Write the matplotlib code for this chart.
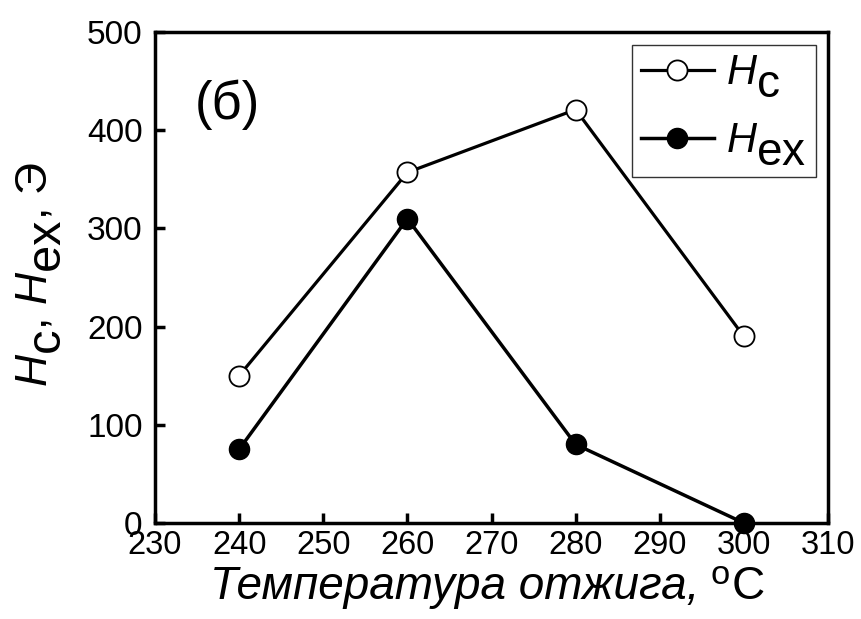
import inspect
import matplotlib
matplotlib.use("Agg")
import matplotlib.pyplot as plt
import matplotlib._mathtext as _mt

# Subscripts in the reference are nearly full-size letters, lowered below the baseline
_mt.SHRINK_FACTOR = 1.1
try:
    _src = inspect.getsource(_mt.Parser.subsuper)
    if 'sub1 * xHeight' in _src:
        _mt.FontConstantsBase.sub1 = 0.6
    else:
        _mt.FontConstantsBase.sub1 = 12.0
except Exception:
    _mt.FontConstantsBase.sub1 = 12.0

temps = [240, 260, 280, 300]
hc = [150, 357, 421, 190]
hex_ = [75, 310, 80, 0]
xticks = [230, 240, 250, 260, 270, 280, 290, 300, 310]
yticks = [0, 100, 200, 300, 400, 500]

plt.rcParams['font.family'] = ['Liberation Sans', 'DejaVu Sans']
plt.rcParams['mathtext.fontset'] = 'custom'
plt.rcParams['mathtext.rm'] = 'Liberation Sans'
plt.rcParams['mathtext.it'] = 'Liberation Sans:italic'
plt.rcParams['mathtext.bf'] = 'Liberation Sans:bold'

W, H = 861, 619
fig = plt.figure(figsize=(W/100, H/100), dpi=100)
L, R, T, B = 155, 828, 32, 523
ax = fig.add_axes([L/W, 1-B/H, (R-L)/W, (B-T)/H])

ax.plot(temps, hc, '-o', color='black', lw=2.3, ms=14.5, mfc='white', mec='black', mew=1.3,
        label=r'$\mathit{H}_\mathrm{c}$', zorder=3)
ax.plot(temps, hex_, '-o', color='black', lw=2.5, ms=14.5, mfc='black', mec='black',
        label=r'$\mathit{H}_\mathrm{ex}$', clip_on=False, zorder=3)

ax.set_xlim(230, 310)
ax.set_ylim(0, 500)
ax.set_xticks(xticks)
ax.set_yticks(yticks)
for s in ax.spines.values():
    s.set_linewidth(2.5)
ax.tick_params(direction='in', length=7, width=2.5)
ax.tick_params(axis='y', labelsize=24, pad=9)
ax.tick_params(axis='x', labelsize=23.5, pad=5)

ax.text(0.107, 0.851, '(б)', transform=ax.transAxes, fontsize=38, va='center', ha='center')

leg = ax.legend(loc='upper right', fontsize=30, frameon=True, fancybox=False,
                edgecolor='black', borderpad=0.22, handlelength=1.75, handletextpad=0.3,
                labelspacing=0.5, borderaxespad=0.3)
leg.get_frame().set_linewidth(1.0)

# y label
fig.text(39/W, 1-275/H, r'$\mathit{H}_\mathrm{c}$, $\mathit{H}_\mathrm{ex}$, Э',
         fontsize=32, rotation=90, ha='center', va='center')

# x label built from pieces: italic text, raised small "o", then "C"
fs = 33
base_y = 1 - 599/H
r = fig.canvas.get_renderer()
t1 = fig.text(0, base_y, 'Температура отжига,', fontsize=fs, style='italic', ha='left', va='baseline')
t2 = fig.text(0, base_y + 15/H, 'o', fontsize=fs*0.75, ha='left', va='baseline')
t3 = fig.text(0, base_y, 'C', fontsize=fs, ha='left', va='baseline')
w1 = t1.get_window_extent(r).width
w2 = t2.get_window_extent(r).width
w3 = t3.get_window_extent(r).width
gap = 12
total = w1 + gap + w2 + 1 + w3
x0 = 487 - total/2
t1.set_x(x0/W)
t2.set_x((x0 + w1 + gap)/W)
t3.set_x((x0 + w1 + gap + w2 + 1)/W)

fig.savefig('out.png', dpi=100)
